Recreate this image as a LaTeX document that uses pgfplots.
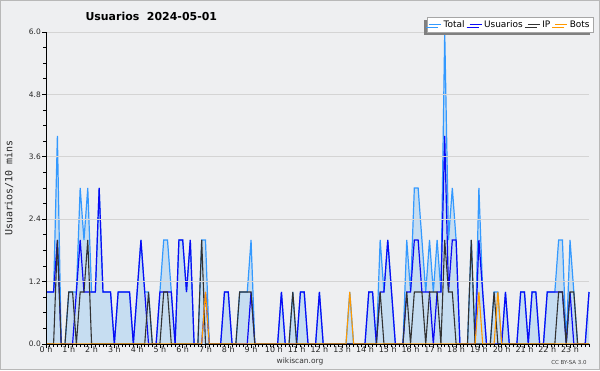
\documentclass[border=0pt]{standalone}
\usepackage{fontspec}
\setmainfont{DejaVu Sans}
\newfontfamily\monofont{DejaVu Sans Mono}
\usepackage{pgfplots}
\pgfplotsset{compat=1.18}
\usepackage{pgfplotstable}
\usetikzlibrary{shadows}

\definecolor{bg}{RGB}{238,239,241}
\definecolor{totc}{RGB}{51,153,255}
\definecolor{usrc}{RGB}{10,10,245}
\definecolor{ipc}{RGB}{50,50,50}
\definecolor{botc}{RGB}{255,153,0}
\definecolor{fillc}{RGB}{198,221,241}

\pgfplotstableread{
i T U IP B
0 1 1 0 0
1 1 1 0 0
2 1 1 0 0
3 4 2 2 0
4 0 0 0 0
5 0 0 0 0
6 1 0 1 0
7 1 0 1 0
8 1 1 0 0
9 3 2 1 0
10 2 1 1 0
11 3 1 2 0
12 1 1 0 0
13 1 1 0 0
14 3 3 0 0
15 1 1 0 0
16 1 1 0 0
17 1 1 0 0
18 0 0 0 0
19 1 1 0 0
20 1 1 0 0
21 1 1 0 0
22 1 1 0 0
23 0 0 0 0
24 1 1 0 0
25 2 2 0 0
26 1 1 0 0
27 1 0 1 0
28 0 0 0 0
29 0 0 0 0
30 1 1 0 0
31 2 1 1 0
32 2 1 1 0
33 1 1 0 0
34 0 0 0 0
35 2 2 0 0
36 2 2 0 0
37 1 1 0 0
38 2 2 0 0
39 0 0 0 0
40 0 0 0 0
41 2 0 2 0
42 2 1 0 1
43 0 0 0 0
44 0 0 0 0
45 0 0 0 0
46 0 0 0 0
47 1 1 0 0
48 1 1 0 0
49 0 0 0 0
50 0 0 0 0
51 1 0 1 0
52 1 0 1 0
53 1 0 1 0
54 2 1 1 0
55 0 0 0 0
56 0 0 0 0
57 0 0 0 0
58 0 0 0 0
59 0 0 0 0
60 0 0 0 0
61 0 0 0 0
62 1 1 0 0
63 0 0 0 0
64 0 0 0 0
65 1 0 1 0
66 0 0 0 0
67 1 1 0 0
68 1 1 0 0
69 0 0 0 0
70 0 0 0 0
71 0 0 0 0
72 1 1 0 0
73 0 0 0 0
74 0 0 0 0
75 0 0 0 0
76 0 0 0 0
77 0 0 0 0
78 0 0 0 0
79 0 0 0 0
80 1 0 0 1
81 0 0 0 0
82 0 0 0 0
83 0 0 0 0
84 0 0 0 0
85 1 1 0 0
86 1 1 0 0
87 0 0 0 0
88 2 1 1 0
89 1 1 0 0
90 2 2 0 0
91 1 1 0 0
92 0 0 0 0
93 0 0 0 0
94 0 0 0 0
95 2 1 1 0
96 1 1 0 0
97 3 2 1 0
98 3 2 1 0
99 2 1 1 0
100 1 1 0 0
101 2 1 1 0
102 1 0 1 0
103 2 1 1 0
104 1 1 0 0
105 6 4 2 0
106 2 1 1 0
107 3 2 1 0
108 2 2 0 0
109 0 0 0 0
110 0 0 0 0
111 0 0 0 0
112 2 0 2 0
113 0 0 0 0
114 3 2 0 1
115 1 1 0 0
116 0 0 0 0
117 0 0 0 0
118 1 0 1 0
119 1 0 0 1
120 0 0 0 0
121 1 1 0 0
122 0 0 0 0
123 0 0 0 0
124 0 0 0 0
125 1 1 0 0
126 1 1 0 0
127 0 0 0 0
128 1 1 0 0
129 1 1 0 0
130 0 0 0 0
131 0 0 0 0
132 1 1 0 0
133 1 1 0 0
134 1 1 0 0
135 2 1 1 0
136 2 1 1 0
137 0 0 0 0
138 2 1 1 0
139 1 0 1 0
140 0 0 0 0
141 0 0 0 0
142 0 0 0 0
143 1 1 0 0
}\data

\begin{document}
\begin{tikzpicture}[x=1bp,y=1bp]
\fill[bg] (0,0) rectangle (600,370);
\draw[black!28, line width=1.2bp] (0.6,0.6) rectangle (599.4,369.4);
\begin{axis}[
  at={(46bp,26bp)}, anchor=south west,
  scale only axis, width=543bp, height=312bp,
  xmin=0, xmax=143, ymin=0, ymax=6,
  axis on top,
  axis lines*=left,
  axis line style={black, line width=0.9bp},
  xtick={0,6,...,138},
  xticklabels={0 h,1 h,2 h,3 h,4 h,5 h,6 h,7 h,8 h,9 h,10 h,11 h,12 h,13 h,14 h,15 h,16 h,17 h,18 h,19 h,20 h,21 h,22 h,23 h},
  minor xtick={0,...,143},
  ytick={0,1.2,2.4,3.6,4.8,6},
  yticklabels={0.0,1.2,2.4,3.6,4.8,6.0},
  minor ytick={0.3,0.6,0.9,1.5,1.8,2.1,2.7,3.0,3.3,3.9,4.2,4.5,5.1,5.4,5.7},
  tick align=outside,
  major tick length=4bp, minor tick length=3bp,
  tick style={black, line width=0.7bp},
  ymajorgrids, grid style={black!17, line width=0.9bp},
  ticklabel style={text=black!85},
  xticklabel style={font=\fontsize{8}{9}\selectfont, inner sep=0.5bp, yshift=2.5bp},
  yticklabel style={font=\fontsize{7.5}{8}\selectfont, inner sep=1bp},
  every axis y label/.style={at={(rel axis cs:0,0.5)}, xshift=-37bp, rotate=90, anchor=center, font=\monofont\fontsize{10}{11}\selectfont, text=black!85},
  ylabel={Usuarios/10 mins},
  clip=false, no markers,
  legend columns=4,
  legend style={at={(1.0074,1.048)}, anchor=north east, draw=black!35, fill=white,
    font=\fontsize{9}{10}\selectfont, inner sep=1.2bp, row sep=0pt,
    drop shadow={shadow xshift=-3bp, shadow yshift=-3bp, fill=black!50, opacity=1},
    /tikz/every even column/.append style={column sep=2.5bp}},
  legend image code/.code={\draw[#1, line width=1bp] (0bp,0bp) -- (12bp,0bp);},
]
\addplot[fill=fillc, draw=none, forget plot] table[x=i,y=T]{\data} \closedcycle;
\addplot[totc, line width=1.2bp] table[x=i,y=T]{\data};
\addlegendentry{Total}
\addplot[usrc, line width=1.2bp] table[x=i,y=U]{\data};
\addlegendentry{Usuarios}
\addplot[ipc, line width=1.1bp] table[x=i,y=IP]{\data};
\addlegendentry{IP}
\addplot[botc, line width=1.1bp] table[x=i,y=B]{\data};
\addlegendentry{Bots}
\end{axis}
\node[anchor=base west, font=\bfseries\fontsize{11}{12}\selectfont] at (82bp,349bp) {Usuarios\ \ 2024-05-01};
\node[font=\fontsize{7.5}{8}\selectfont, text=black!80] at (300bp,9bp) {wikiscan.org};
\node[font=\fontsize{5.5}{6}\selectfont, text=black!75] at (569bp,8bp) {CC BY-SA 3.0};
\pgfresetboundingbox
\useasboundingbox (0,0) rectangle (600,370);
\end{tikzpicture}
\end{document}
